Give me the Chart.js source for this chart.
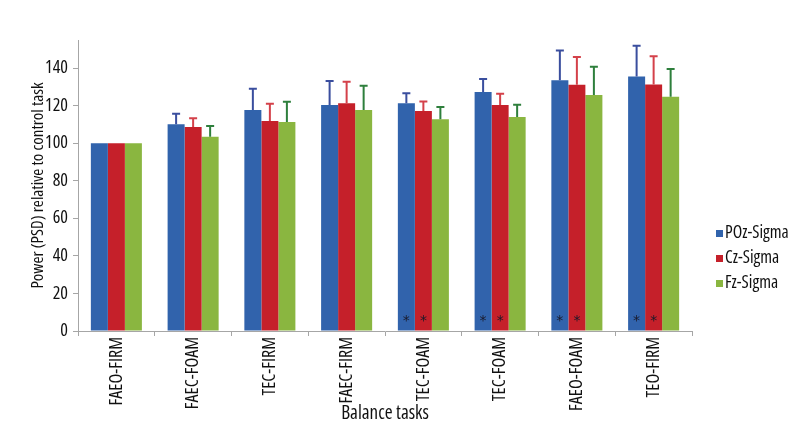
<!DOCTYPE html>
<html>
<head>
<meta charset="utf-8">
<script src="https://cdn.jsdelivr.net/npm/chart.js@4"></script>
<style>
html, body { margin: 0; padding: 0; background: #fff; }
</style>
</head>
<body>
<canvas id="chart" width="800" height="440"></canvas>
<script>
const tasks = ['FAEO-FIRM', 'FAEC-FOAM', 'TEC-FIRM', 'FAEC-FIRM', 'TEC-FOAM', 'TEC-FOAM', 'FAEO-FOAM', 'TEO-FIRM'];
const pozSigma = [100, 110.1, 117.7, 120.4, 121.3, 127.3, 133.5, 135.6];
const czSigma = [100, 108.7, 111.9, 121.3, 117.2, 120.4, 131.1, 131.3];
const fzSigma = [100, 103.4, 111.3, 117.7, 112.8, 114.0, 125.7, 124.8];
// upper error bars (SD)
const pozErr = [0, 5.6, 11.3, 12.7, 5.4, 6.9, 15.9, 16.4];
const czErr = [0, 4.6, 9.1, 11.4, 5.1, 6.0, 14.9, 15.1];
const fzErr = [0, 5.8, 10.8, 12.9, 6.5, 6.5, 15.0, 14.8];
// significance markers (*)
const pozSig = [false, false, false, false, true, true, true, true];
const czSig = [false, false, false, false, true, true, true, true];
const fzSig = [false, false, false, false, false, false, false, false];

const family = '"Open Sans", sans-serif';
const tickFont = { family: family, size: 18, weight: 'condensed' };
const yTitleFont = { family: family, size: 17, weight: 'condensed' };
const xTitleFont = { family: family, size: 19, weight: 'condensed' };

const errorBars = {
    id: 'errorBars',
    afterDatasetsDraw(chart) {
        const ctx = chart.ctx;
        const y = chart.scales.y;
        chart.data.datasets.forEach((ds, i) => {
            const meta = chart.getDatasetMeta(i);
            meta.data.forEach((bar, j) => {
                const err = ds.errors[j];
                if (err) {
                    const top = y.getPixelForValue(ds.data[j] + err);
                    ctx.save();
                    ctx.strokeStyle = ds.errorColor;
                    ctx.lineWidth = 2;
                    ctx.beginPath();
                    ctx.moveTo(bar.x, bar.y);
                    ctx.lineTo(bar.x, top);
                    ctx.moveTo(bar.x - 4, top);
                    ctx.lineTo(bar.x + 4, top);
                    ctx.stroke();
                    ctx.restore();
                }
                if (ds.sig[j]) {
                    ctx.save();
                    ctx.fillStyle = '#1a1a2a';
                    ctx.font = '14px "DejaVu Sans", sans-serif';
                    ctx.textAlign = 'center';
                    ctx.textBaseline = 'middle';
                    ctx.fillText('*', bar.x, y.getPixelForValue(0) - 10);
                    ctx.restore();
                }
            });
        });
    }
};

const sideLegend = {
    id: 'sideLegend',
    afterDraw(chart) {
        const ctx = chart.ctx;
        const x0 = chart.chartArea.right + 24;
        const y0 = chart.chartArea.bottom - 98;
        chart.data.datasets.forEach((ds, i) => {
            const yy = y0 + i * 25;
            ctx.save();
            ctx.fillStyle = ds.backgroundColor;
            ctx.fillRect(x0, yy - 3, 7, 7);
            ctx.fillStyle = '#111';
            ctx.font = 'condensed 17.5px ' + family;
            ctx.textBaseline = 'middle';
            ctx.fillText(ds.label, x0 + 9, yy);
            ctx.restore();
        });
    }
};

new Chart(document.getElementById('chart'), {
    type: 'bar',
    data: {
        labels: tasks,
        datasets: [
            { label: 'POz-Sigma', data: pozSigma, errors: pozErr, sig: pozSig, backgroundColor: '#3163ac', errorColor: '#3a4e9e' },
            { label: 'Cz-Sigma', data: czSigma, errors: czErr, sig: czSig, backgroundColor: '#c5202a', errorColor: '#d4414a' },
            { label: 'Fz-Sigma', data: fzSigma, errors: fzErr, sig: fzSig, backgroundColor: '#8ab640', errorColor: '#2e7f3c' }
        ]
    },
    options: {
        responsive: false,
        animation: false,
        categoryPercentage: 0.665,
        barPercentage: 1.0,
        layout: { padding: { left: 20, top: 40, right: 108, bottom: 15 } },
        plugins: {
            legend: { display: false },
            tooltip: { enabled: false }
        },
        scales: {
            x: {
                grid: { offset: true, drawOnChartArea: false, tickLength: 5, color: '#a6a6a6' },
                border: { color: '#a6a6a6' },
                ticks: { minRotation: 90, maxRotation: 90, padding: 1, color: '#111', font: tickFont },
                title: { display: true, text: 'Balance tasks', color: '#111', font: xTitleFont, padding: 0 },
                afterFit: s => { s.height = 94; }
            },
            y: {
                min: 0,
                max: 155,
                grid: { drawOnChartArea: false, tickLength: 5, color: '#a6a6a6' },
                border: { color: '#a6a6a6' },
                ticks: { stepSize: 20, includeBounds: false, padding: 5, color: '#111', font: tickFont },
                title: { display: true, text: 'Power (PSD) relative to control task', color: '#111', font: yTitleFont, padding: 8 },
                afterFit: s => { s.width = 58; }
            }
        }
    },
    plugins: [errorBars, sideLegend]
});
</script>
</body>
</html>
